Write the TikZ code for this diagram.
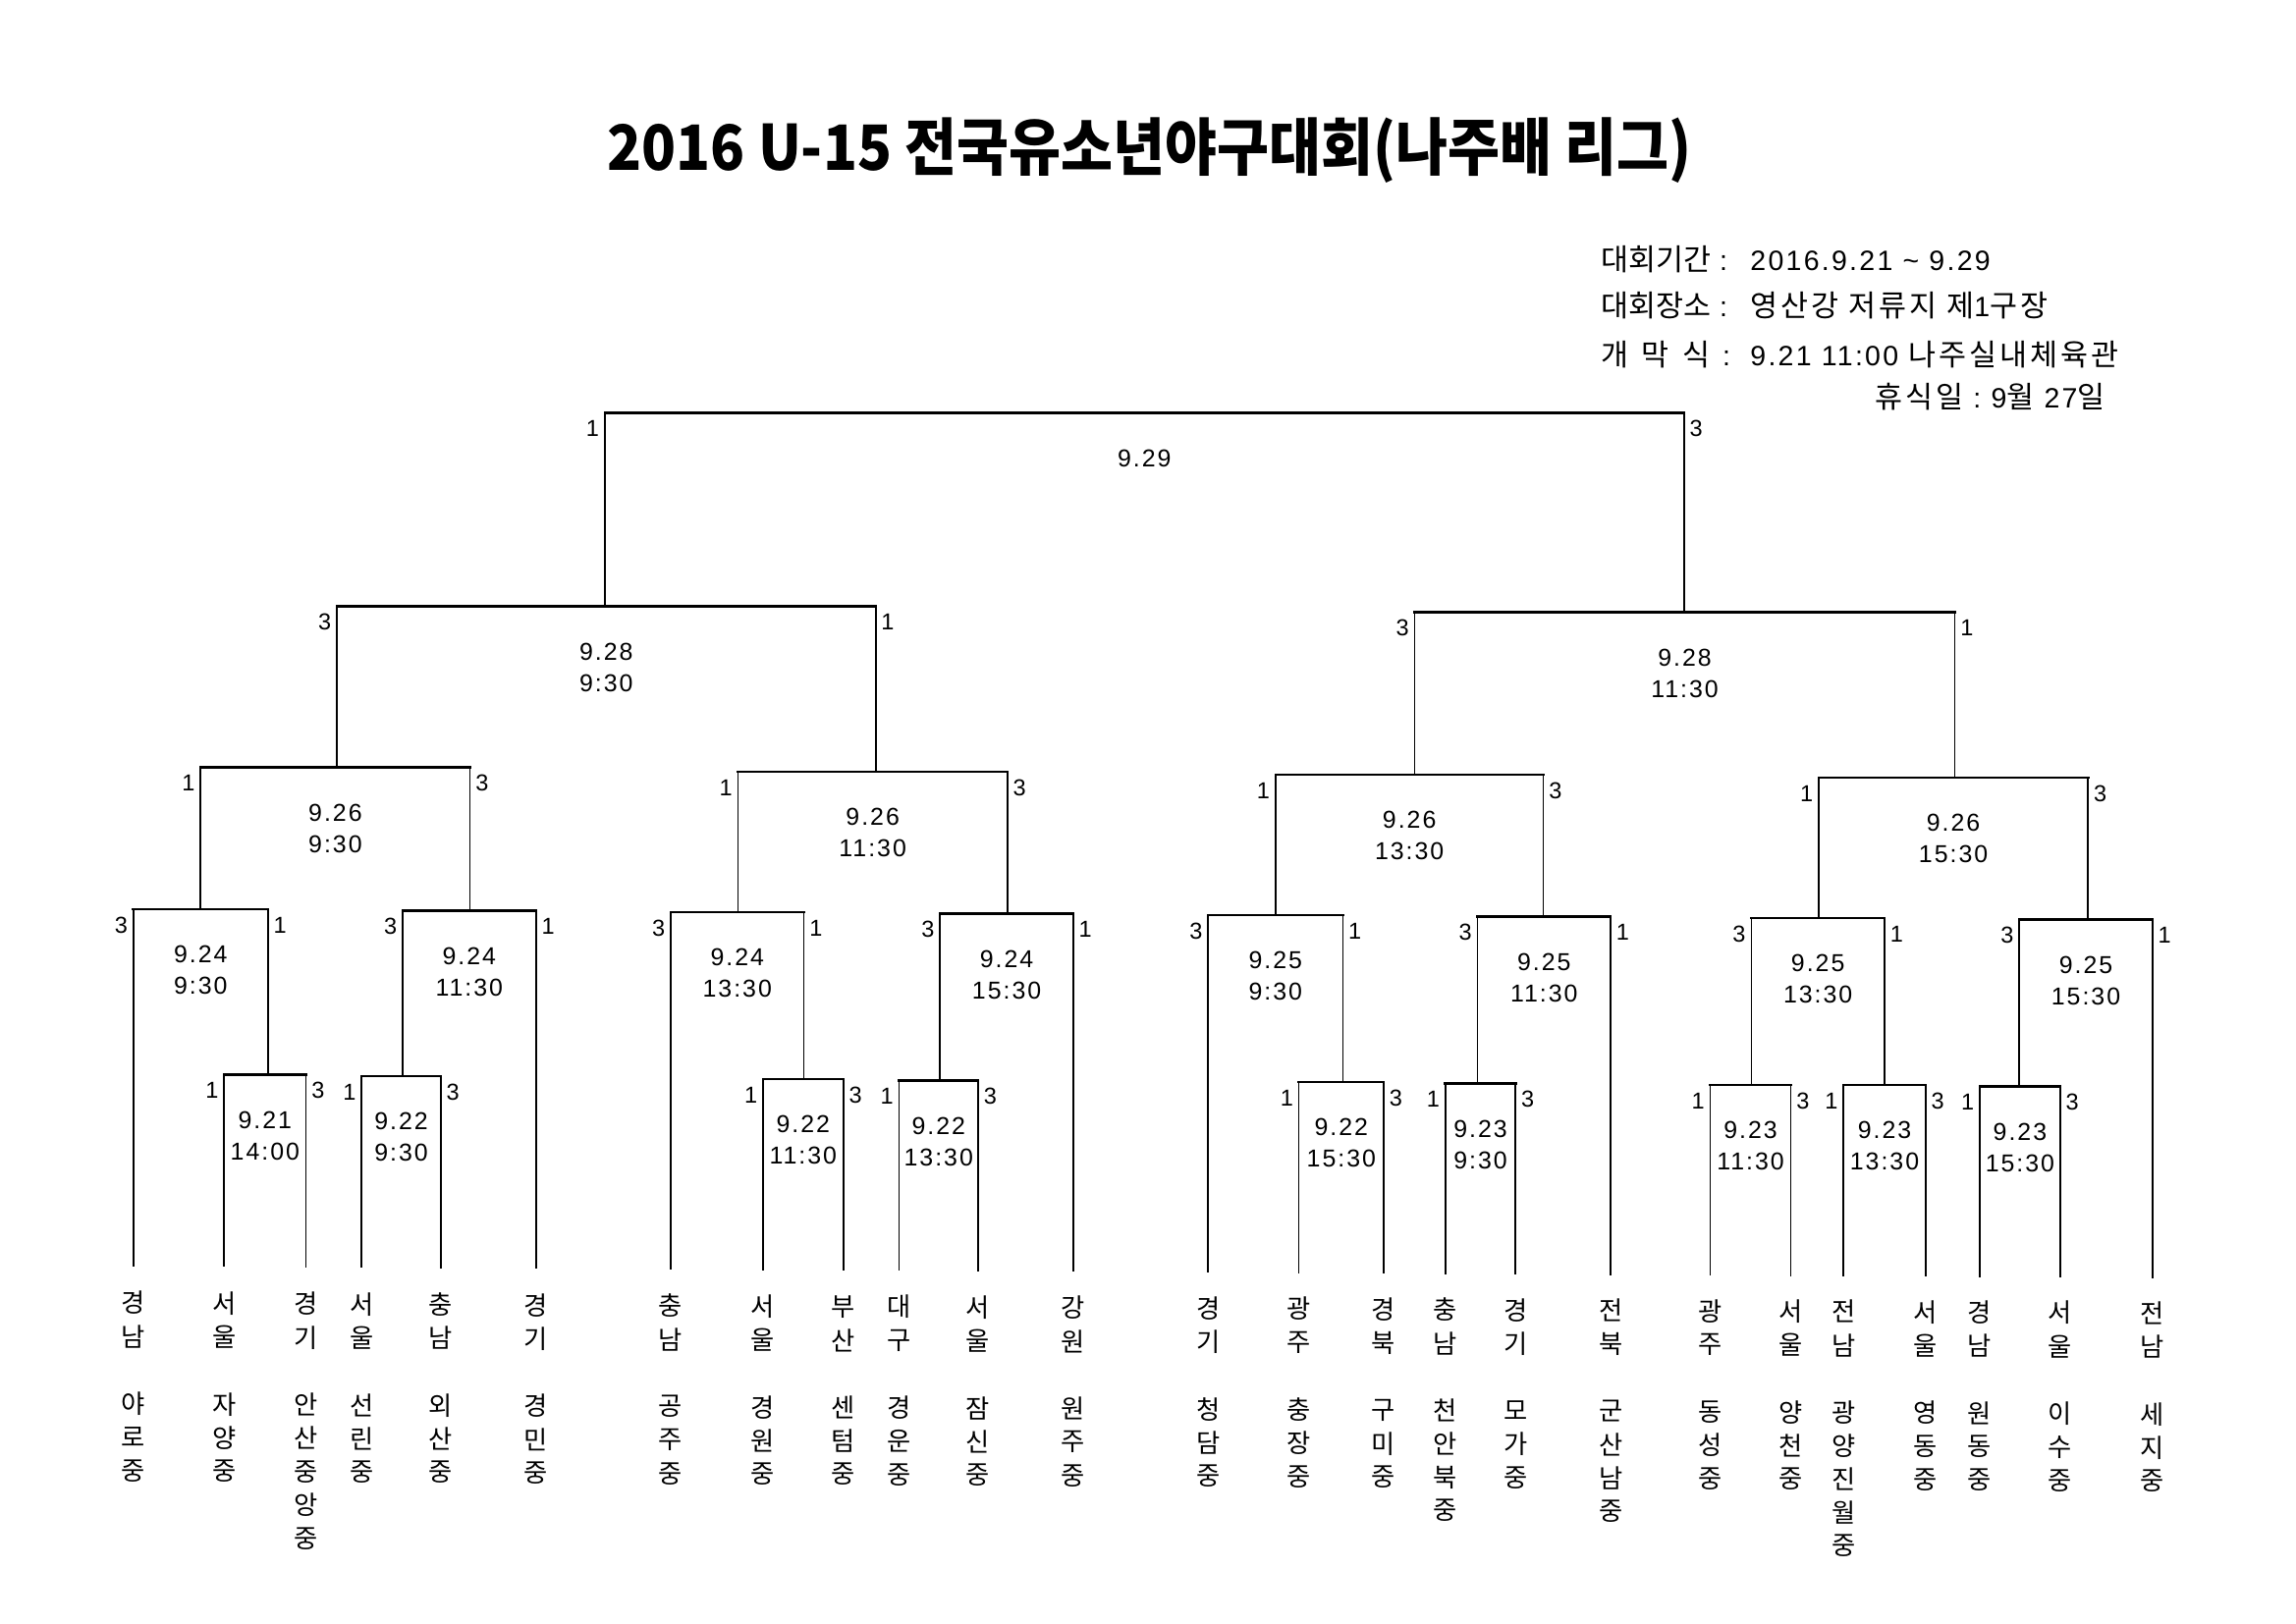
\documentclass[tikz,border=0pt]{standalone}
\usepackage{fontspec}
\setmainfont{Liberation Sans}
\newfontfamily\kr{Noto Sans CJK KR}
\newfontfamily\krw[LetterSpace=10]{Noto Sans CJK KR}
\newfontfamily\dnum[LetterSpace=8]{Liberation Sans}

\tikzset{
  bar/.style={line width=0.9pt, line cap=rect},
  stem/.style={line width=0.6pt},
  score/.style={font=\fontsize{8.5}{10}\selectfont, inner sep=0pt},
  datelbl/.style={font=\dnum\fontsize{9}{11}\selectfont, inner sep=0pt},
  kchar/.style={font=\kr\fontsize{9.5}{11}\selectfont, inner sep=0pt},
  info/.style={inner sep=0pt, anchor=base west},
}

\newcommand\bmatch[8]{%
  \coordinate (#1-l) at (#2,#4);
  \coordinate (#1-r) at (#3,#4);
  \coordinate (#1-c) at ({(#2+#3)/2},#4);
  \draw[bar] (#1-l) -- (#1-r);
  \node[score,anchor=east] (#1-sl) at ({#2-3.5},{#4+11}) {#5};
  \node[score,anchor=west] (#1-sr) at ({#3+3.5},{#4+11}) {#6};
  \node[datelbl] (#1-d) at ({(#2+#3)/2},{#4+31}) {#7};
  \if\relax\detokenize{#8}\relax\else
    \node[datelbl] (#1-t) at ({(#2+#3)/2},{#4+52.5}) {#8};
  \fi
}

\newcommand\team[4]{%
  \pgfmathsetmacro\tdy{0.005*(#2-91)}
  \pgfmathsetmacro\tdl{0.0058*(#2-91)}
  \coordinate (t#1) at (#2,{865+\tdl});
  \foreach \c [count=\i] in {#3}
    \node[kchar] (t#1r\i) at (#2,{890+\tdy+23*(\i-1)}) {\c};
  \foreach \c [count=\i] in {#4}
    \node[kchar] (t#1s\i) at (#2,{959+\tdy+22.8*(\i-1)}) {\c};
}

\begin{document}
\begin{tikzpicture}[x=0.189413mm, y=-0.189413mm]
\useasboundingbox (0,0) rectangle (1568,1109);
\fill[white] (0,0) rectangle (1568,1109);

% title
\node[inner sep=0pt] (title) at (785,103)
  {\scalebox{0.905}[1]{\kr\bfseries\fontsize{23}{27}\selectfont 2016 U-15 전국유소년야구대회(나주배 리그)}};

% info block
\node[info] (i1a) at (1093,184.5) {\kr\fontsize{11}{13}\selectfont 대회기간};
\node[info] (i1b) at (1174,184.5) {\dnum\fontsize{10.3}{13}\selectfont :};
\node[info] (i1c) at (1195,184.5) {\dnum\fontsize{10.3}{13}\selectfont 2016.9.21 \textasciitilde{} 9.29};

\node[info] (i2a) at (1093,216.5) {\kr\fontsize{11}{13}\selectfont 대회장소};
\node[info] (i2b) at (1174,216.5) {\dnum\fontsize{10.3}{13}\selectfont :};
\node[info] (i2c) at (1195,216.5) {\fontsize{11}{13}\selectfont{\krw 영산강 저류지 제}{\dnum\fontsize{10.3}{13}\selectfont 1}{\krw 구장}};

\node[info] (i3a) at (1093,249.5) {\kr\fontsize{11}{13}\selectfont 개\hspace{1.7mm}막\hspace{1.7mm}식};
\node[info] (i3b) at (1176,249.5) {\dnum\fontsize{10.3}{13}\selectfont :};
\node[info] (i3c) at (1195,249.5) {\fontsize{11}{13}\selectfont{\dnum\fontsize{10.3}{13}\selectfont 9.21 11:00}{\krw\ 나주실내체육관}};

\node[info] (i4) at (1280,278.5) {\fontsize{11}{13}\selectfont{\krw 휴식일}{\dnum\fontsize{10.3}{13}\selectfont\ :\ 9}{\kr 월}{\dnum\fontsize{10.3}{13}\selectfont\ 27}{\kr 일}};

% matches
\bmatch{F}{413}{1150}{282}{1}{3}{9.29}{}
\bmatch{SFL}{230}{598}{414}{3}{1}{9.28}{9:30}
\bmatch{SFR}{966}{1335}{418}{3}{1}{9.28}{11:30}
\bmatch{Q1}{137}{321}{524}{1}{3}{9.26}{9:30}
\bmatch{Q2}{504}{688}{527}{1}{3}{9.26}{11:30}
\bmatch{Q3}{871}{1054}{529}{1}{3}{9.26}{13:30}
\bmatch{Q4}{1242}{1426}{531}{1}{3}{9.26}{15:30}
\bmatch{R1}{91}{183}{621}{3}{1}{9.24}{9:30}
\bmatch{R2}{275}{366}{622}{3}{1}{9.24}{11:30}
\bmatch{R3}{458}{549}{623}{3}{1}{9.24}{13:30}
\bmatch{R4}{642}{733}{624}{3}{1}{9.24}{15:30}
\bmatch{R5}{825}{917}{625}{3}{1}{9.25}{9:30}
\bmatch{R6}{1009}{1100}{626}{3}{1}{9.25}{11:30}
\bmatch{R7}{1196}{1287}{627}{3}{1}{9.25}{13:30}
\bmatch{R8}{1379}{1470}{628}{3}{1}{9.25}{15:30}
\bmatch{A}{153}{209}{734}{1}{3}{9.21}{14:00}
\bmatch{B}{247}{301}{735}{1}{3}{9.22}{9:30}
\bmatch{C}{521}{576}{737}{1}{3}{9.22}{11:30}
\bmatch{D}{614}{668}{738}{1}{3}{9.22}{13:30}
\bmatch{E}{887}{945}{739}{1}{3}{9.22}{15:30}
\bmatch{Fm}{987}{1035}{740}{1}{3}{9.23}{9:30}
\bmatch{G}{1168}{1223}{741}{1}{3}{9.23}{11:30}
\bmatch{H}{1259}{1315}{741}{1}{3}{9.23}{13:30}
\bmatch{I}{1352}{1407}{742}{1}{3}{9.23}{15:30}

% teams
\team{1}{91}{경,남}{야,로,중}
\team{2}{153}{서,울}{자,양,중}
\team{3}{209}{경,기}{안,산,중,앙,중}
\team{4}{247}{서,울}{선,린,중}
\team{5}{301}{충,남}{외,산,중}
\team{6}{366}{경,기}{경,민,중}
\team{7}{458}{충,남}{공,주,중}
\team{8}{521}{서,울}{경,원,중}
\team{9}{576}{부,산}{센,텀,중}
\team{10}{614}{대,구}{경,운,중}
\team{11}{668}{서,울}{잠,신,중}
\team{12}{733}{강,원}{원,주,중}
\team{13}{825}{경,기}{청,담,중}
\team{14}{887}{광,주}{충,장,중}
\team{15}{945}{경,북}{구,미,중}
\team{16}{987}{충,남}{천,안,북,중}
\team{17}{1035}{경,기}{모,가,중}
\team{18}{1100}{전,북}{군,산,남,중}
\team{19}{1168}{광,주}{동,성,중}
\team{20}{1223}{서,울}{양,천,중}
\team{21}{1259}{전,남}{광,양,진,월,중}
\team{22}{1315}{서,울}{영,동,중}
\team{23}{1352}{경,남}{원,동,중}
\team{24}{1407}{서,울}{이,수,중}
\team{25}{1470}{전,남}{세,지,중}

% stems
\draw[stem] (F-l) -- (F-l |- SFL-c);
\draw[stem] (F-r) -- (F-r |- SFR-c);
\draw[stem] (SFL-l) -- (SFL-l |- Q1-c);
\draw[stem] (SFL-r) -- (SFL-r |- Q2-c);
\draw[stem] (SFR-l) -- (SFR-l |- Q3-c);
\draw[stem] (SFR-r) -- (SFR-r |- Q4-c);
\draw[stem] (Q1-l) -- (Q1-l |- R1-c);
\draw[stem] (Q1-r) -- (Q1-r |- R2-c);
\draw[stem] (Q2-l) -- (Q2-l |- R3-c);
\draw[stem] (Q2-r) -- (Q2-r |- R4-c);
\draw[stem] (Q3-l) -- (Q3-l |- R5-c);
\draw[stem] (Q3-r) -- (Q3-r |- R6-c);
\draw[stem] (Q4-l) -- (Q4-l |- R7-c);
\draw[stem] (Q4-r) -- (Q4-r |- R8-c);
\draw[stem] (R1-l) -- (R1-l |- t1);
\draw[stem] (R1-r) -- (R1-r |- A-c);
\draw[stem] (R2-l) -- (R2-l |- B-c);
\draw[stem] (R2-r) -- (R2-r |- t6);
\draw[stem] (R3-l) -- (R3-l |- t7);
\draw[stem] (R3-r) -- (R3-r |- C-c);
\draw[stem] (R4-l) -- (R4-l |- D-c);
\draw[stem] (R4-r) -- (R4-r |- t12);
\draw[stem] (R5-l) -- (R5-l |- t13);
\draw[stem] (R5-r) -- (R5-r |- E-c);
\draw[stem] (R6-l) -- (R6-l |- Fm-c);
\draw[stem] (R6-r) -- (R6-r |- t18);
\draw[stem] (R7-l) -- (R7-l |- G-c);
\draw[stem] (R7-r) -- (R7-r |- H-c);
\draw[stem] (R8-l) -- (R8-l |- I-c);
\draw[stem] (R8-r) -- (R8-r |- t25);
\draw[stem] (A-l) -- (A-l |- t2);
\draw[stem] (A-r) -- (A-r |- t3);
\draw[stem] (B-l) -- (B-l |- t4);
\draw[stem] (B-r) -- (B-r |- t5);
\draw[stem] (C-l) -- (C-l |- t8);
\draw[stem] (C-r) -- (C-r |- t9);
\draw[stem] (D-l) -- (D-l |- t10);
\draw[stem] (D-r) -- (D-r |- t11);
\draw[stem] (E-l) -- (E-l |- t14);
\draw[stem] (E-r) -- (E-r |- t15);
\draw[stem] (Fm-l) -- (Fm-l |- t16);
\draw[stem] (Fm-r) -- (Fm-r |- t17);
\draw[stem] (G-l) -- (G-l |- t19);
\draw[stem] (G-r) -- (G-r |- t20);
\draw[stem] (H-l) -- (H-l |- t21);
\draw[stem] (H-r) -- (H-r |- t22);
\draw[stem] (I-l) -- (I-l |- t23);
\draw[stem] (I-r) -- (I-r |- t24);
\end{tikzpicture}
\end{document}
